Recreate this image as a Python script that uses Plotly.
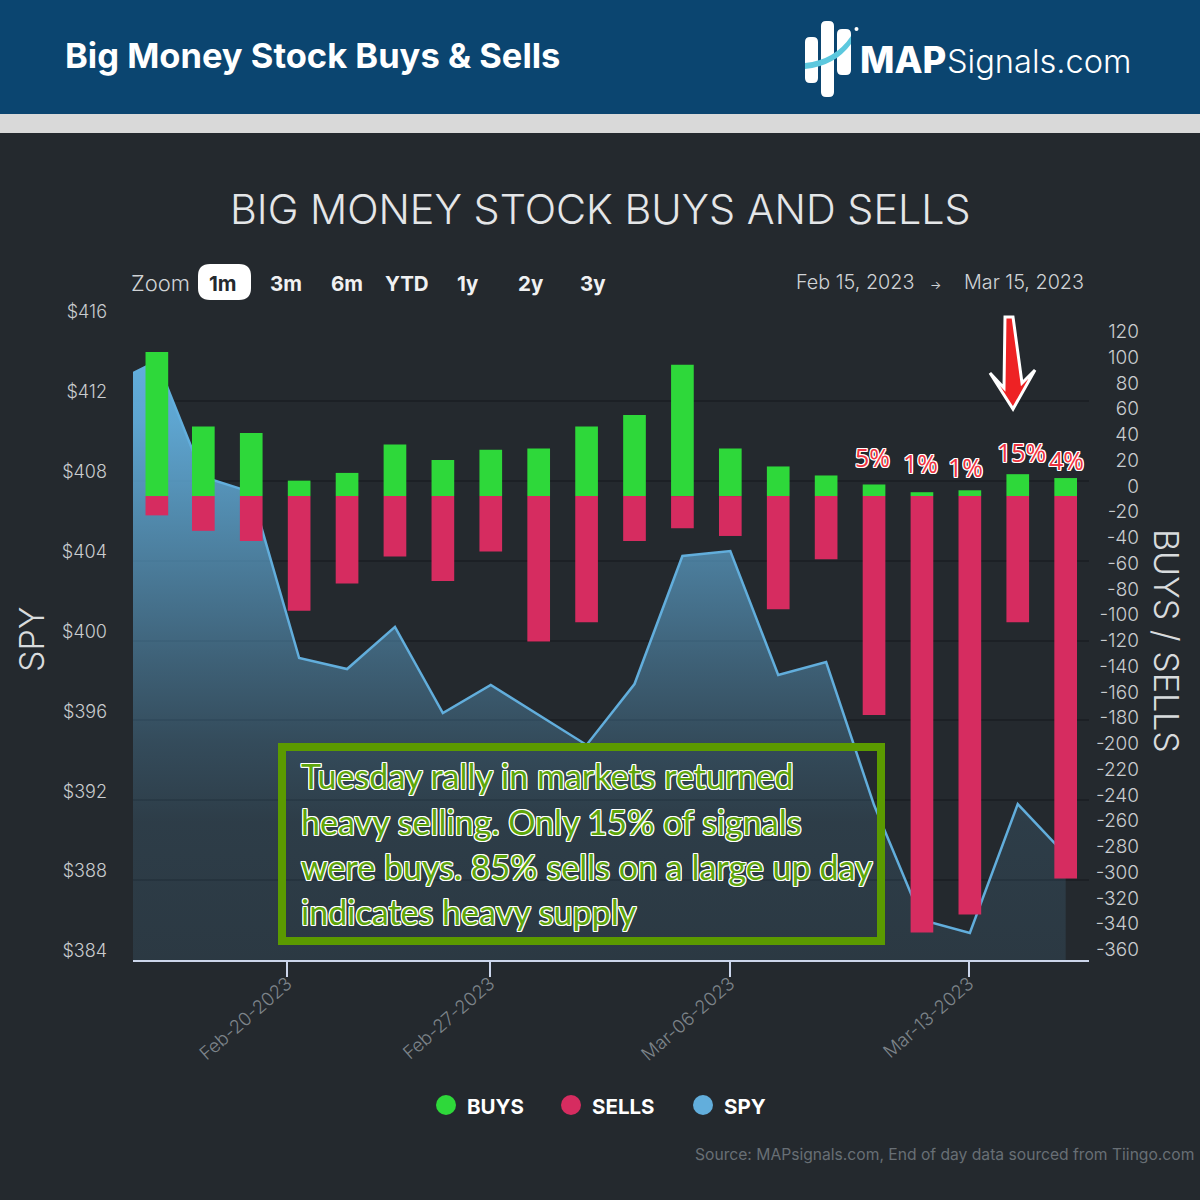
'''
Big money buys and sells against SPY, one month view.
'''
import plotly.graph_objects as go

SIZE = 1200

# Trading days and where they sit on the ordinal axis.
dates = ['Feb-15', 'Feb-16', 'Feb-17', 'Feb-21', 'Feb-22', 'Feb-23', 'Feb-24',
         'Feb-27', 'Feb-28', 'Mar-01', 'Mar-02', 'Mar-03', 'Mar-06', 'Mar-07',
         'Mar-08', 'Mar-09', 'Mar-10', 'Mar-13', 'Mar-14', 'Mar-15']
positions = [0.03, 1, 2, 3, 4, 5, 6, 7, 8, 9, 10, 11, 12, 13, 14, 15, 16, 17, 18, 19]
buys = [112, 54, 49, 12, 18, 40, 28, 36, 37, 54, 63, 102, 37, 23, 16, 9, 3, 4.5, 17, 14]
sells = [-15, -27, -35, -89, -68, -47, -66, -43, -113, -98, -35, -25, -31, -88,
         -49, -170, -339, -325, -98, -297]
spy = [413.99, 408.19, 407.43, 399.12, 398.57, 400.68, 396.37, 397.77, 396.27, 394.77,
       397.82, 404.23, 404.48, 398.27, 398.92, 391.76, 386.0, 385.35, 391.81, 389.26]
spy_lead_in = 413.39

tick_positions = [2.75, 6.98, 11.99, 16.98]
tick_labels = ['Feb-20-2023', 'Feb-27-2023', 'Mar-06-2023', 'Mar-13-2023']

flow_ticks = [120, 100, 80, 60, 40, 20, 0, -20, -40, -60, -80, -100, -120, -140, -160, -180,
              -200, -220, -240, -260, -280, -300, -320, -340, -360]

zoom_buttons = ['1m', '3m', '6m', 'YTD', '1y', '2y', '3y']
zoom_centers = [224, 287, 348, 408, 469, 532, 594]

pct_labels = ['5%', '1%', '1%', '15%', '4%']
pct_centers = [872, 920, 965, 1021, 1066]
pct_rows = [457, 463, 467, 452, 460]

legend_names = ['BUYS', 'SELLS', 'SPY']
legend_colors = ['#2ED83A', '#D62C60', '#62AEDC']
legend_dots = [446, 571, 703]

callout_lines = ['Tuesday rally in markets returned',
                 'heavy selling. Only 15% of signals',
                 'were buys. 85% sells on a large up day',
                 'indicates heavy supply']
callout_rows = [776, 821, 866, 911]

area_stops = [0, 0.23, 0.364, 0.5, 0.633, 0.9, 1]
area_alpha = [0.12, 0.15, 0.26, 0.42, 0.59, 0.93, 1]

BACKGROUND = '#24292E'
FONT = 'Inter'
HALO = ','.join(f'{a}px {b}px 0 #fff' for a, b in
                [(1, 0), (-1, 0), (0, 1), (0, -1), (1, 1), (-1, 1), (1, -1), (-1, -1)])


def px(x):
    return x / SIZE


def py(y):
    return 1 - y / SIZE


def label(text, x, y, size, color='#FFFFFF', anchor='left', weight=400, angle=0, family=FONT, **kw):
    '''Text placed by its position in picture pixels.'''
    return dict(text=text, x=px(x), y=py(y), xref='paper', yref='paper', showarrow=False,
                xanchor=anchor, yanchor='middle', textangle=angle,
                font=dict(family=family, size=size, color=color, weight=weight, **kw))


def rounded(x0, y0, x1, y1, r):
    '''Rounded rectangle path in paper coordinates.'''
    pts = [
        f'M {px(x0 + r)} {py(y0)}', f'L {px(x1 - r)} {py(y0)}',
        f'Q {px(x1)} {py(y0)} {px(x1)} {py(y0 + r)}', f'L {px(x1)} {py(y1 - r)}',
        f'Q {px(x1)} {py(y1)} {px(x1 - r)} {py(y1)}', f'L {px(x0 + r)} {py(y1)}',
        f'Q {px(x0)} {py(y1)} {px(x0)} {py(y1 - r)}', f'L {px(x0)} {py(y0 + r)}',
        f'Q {px(x0)} {py(y0)} {px(x0 + r)} {py(y0)}', 'Z',
    ]
    return ' '.join(pts)


def path_shape(path, fill, line_color=None, line_width=0, layer='above'):
    return dict(type='path', path=path, xref='paper', yref='paper', fillcolor=fill,
                line=dict(color=line_color or fill, width=line_width), layer=layer)


def rect(x0, y0, x1, y1, fill, layer='below'):
    return dict(type='rect', xref='paper', yref='paper', x0=px(x0), x1=px(x1), y0=py(y1), y1=py(y0),
                fillcolor=fill, line=dict(width=0), layer=layer)


def dot(x, y, r, fill):
    return dict(type='circle', xref='paper', yref='paper', x0=px(x - r), x1=px(x + r),
                y0=py(y + r), y1=py(y - r), fillcolor=fill, line=dict(width=0))


fig = go.Figure()

# SPY area sits on the left axis, under the bars.
fig.add_scatter(
    x=[-0.468] + positions,
    y=[spy_lead_in] + spy,
    mode='lines',
    name='SPY',
    line=dict(color='#62AEDC', width=2.5),
    fill='tozeroy',
    fillgradient=dict(
        type='vertical', start=384, stop=414,
        colorscale=[[s, f'rgba(98,174,220,{a})'] for s, a in zip(area_stops, area_alpha)],
    ),
    yaxis='y',
)
fig.add_bar(x=positions, y=buys, name='BUYS', marker=dict(color='#2ED83A', line_width=0), yaxis='y2')
fig.add_bar(x=positions, y=sells, name='SELLS', marker=dict(color='#D62C60', line_width=0), yaxis='y2')

shapes = [
    rect(0, 0, 1200, 114, '#0B4570'),
    rect(0, 114, 1200, 133, '#D9D9D9'),
    # Logo.
    path_shape(rounded(805, 37, 818, 83, 5), '#FFFFFF'),
    path_shape(rounded(821, 21, 834, 97, 5), '#FFFFFF'),
    path_shape(rounded(837, 29, 851, 75, 5), '#FFFFFF'),
    dot(856.5, 29, 2, '#FFFFFF'),
    path_shape(f'M {px(805)} {py(63)} Q {px(835)} {py(60)} {px(851)} {py(36)} '
               f'L {px(851)} {py(44)} Q {px(835)} {py(66)} {px(805)} {py(69)} Z', '#5CC8DE'),
    # Active zoom button.
    path_shape(rounded(198, 264, 251, 300, 12), '#FFFFFF'),
    # Red arrow.
    path_shape(' '.join([f'M {px(1005)} {py(317)}', f'L {px(1013)} {py(317)}', f'L {px(1022)} {py(383)}',
                         f'L {px(1035)} {py(370)}', f'L {px(1013)} {py(409)}', f'L {px(990)} {py(373)}',
                         f'L {px(1004)} {py(388)} Z']),
               '#EE2224', '#FFFFFF', 3),
    # Callout box.
    dict(type='rect', xref='paper', yref='paper', x0=px(282), x1=px(881), y0=py(941), y1=py(747),
         line=dict(color='#5B9A00', width=8), fillcolor='rgba(0,0,0,0)'),
]
shapes += [dot(x, 1105, 10, c) for x, c in zip(legend_dots, legend_colors)]

annotations = [
    label('Big Money Stock Buys &amp; Sells', 63, 56, 34.5, weight=700),
    label('MAP', 858, 60, 36.5, weight=800),
    label('Signals.com', 944.5, 61, 32.6, weight=300),
    label('BIG MONEY STOCK BUYS AND SELLS', 600, 209, 41.3, color='#E4E6E8', anchor='center', weight=300),
    label('Zoom', 129, 283, 22, color='#D0D3D6', weight=300),
    label('Feb 15, 2023', 794, 282, 19.8, color='#D0D3D6', weight=300),
    label('→', 935, 284, 12, color='#D0D3D6', anchor='center'),
    label('Mar 15, 2023', 962, 282, 19.8, color='#D0D3D6', weight=300),
    label('SPY', 31, 640, 34, color='#D8DBDD', anchor='center', weight=300, angle=-90),
    label('BUYS / SELLS', 1167, 641, 34, color='#D8DBDD', anchor='center', weight=300, angle=90),
    label('Source: MAPsignals.com, End of day data sourced from Tiingo.com', 693, 1154, 15.65, color='#686F75'),
]
for text, row in zip(callout_lines, callout_rows):
    annotations.append(label(text, 299, row, 34.1, color='#5FA60B', family='Lato', shadow=HALO))
for text, center in zip(zoom_buttons, zoom_centers):
    color = '#24292E' if text == '1m' else '#F0F1F2'
    annotations.append(label(text, center - 1, 283, 20.5, color=color, anchor='center', weight=700))
for text, center, row in zip(pct_labels, pct_centers, pct_rows):
    annotations.append(label(text, center, row, 25, color='#EE3340', anchor='center', family='Open Sans', shadow=HALO))
for text, x in zip(legend_names, legend_dots):
    annotations.append(label(text, x + 19, 1106, 20.5, weight=700))

fig.update_layout(
    width=SIZE,
    height=SIZE,
    margin=dict(l=0, r=0, t=0, b=0),
    autosize=False,
    paper_bgcolor=BACKGROUND,
    plot_bgcolor='rgba(0,0,0,0)',
    showlegend=False,
    barmode='relative',
    bargap=0.512,
    font=dict(family=FONT, color='#D0D3D6'),
    xaxis=dict(
        domain=[px(133), px(1089)],
        range=[-0.468, 19.487],
        automargin=False,
        tickvals=tick_positions,
        ticktext=tick_labels,
        tickangle=-41,
        ticks='outside',
        ticklen=15,
        tickwidth=1.5,
        tickcolor='#CCD6EB',
        ticklabelstandoff=-11,
        tickfont=dict(size=18.4, color='#7D848A', weight=300),
        showgrid=False,
        zeroline=False,
        showline=True,
        linecolor='#CCD6EB',
        linewidth=1.5,
    ),
    yaxis=dict(
        domain=[py(960), py(321)],
        range=[384, 416],
        automargin=False,
        dtick=4,
        tickprefix='$',
        ticks='',
        anchor='free',
        position=px(107),
        ticklabelshift=-9,
        tickfont=dict(size=18, color='#C9CCCF', weight=300),
        gridcolor='#1C2025',
        gridwidth=1.5,
        zeroline=False,
        showline=False,
    ),
    yaxis2=dict(
        domain=[py(960), py(321)],
        range=[-360.4, 136],
        automargin=False,
        tickvals=flow_ticks,
        ticktext=[str(v) for v in flow_ticks],
        side='right',
        overlaying='y',
        anchor='free',
        position=px(1142),
        ticks='',
        ticklabelposition='inside',
        ticklabeloverflow='allow',
        ticklabelshift=-10,
        tickfont=dict(size=19, color='#C9CCCF', weight=300),
        showgrid=False,
        zeroline=False,
        showline=False,
    ),
    shapes=shapes,
    annotations=annotations,
)

fig.write_html('out.html', config={'displayModeBar': False},
               post_script="document.body.style.margin='0';")
